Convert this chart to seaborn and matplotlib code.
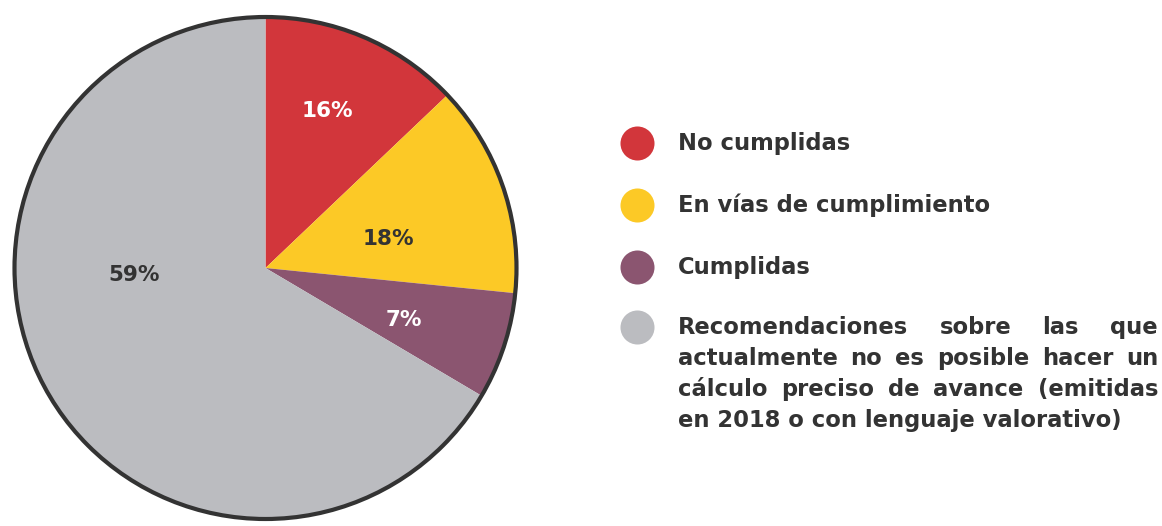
import matplotlib
matplotlib.use("Agg")
import matplotlib.pyplot as plt
import seaborn as sns

# slice sizes as drawn in the picture (degrees of arc / 360), and the printed labels
categories = ["No cumplidas", "En vías de cumplimiento", "Cumplidas",
              "Recomendaciones sobre las que actualmente no es posible hacer un "
              "cálculo preciso de avance (emitidas en 2018 o con lenguaje valorativo)"]
shares = [12.9, 13.7, 6.9, 66.5]
pct_labels = ["16%", "18%", "7%", "59%"]
colors = ["#D2363B", "#FCC926", "#8B5570", "#BBBCC0"]
label_colors = ["white", "#333333", "white", "#333333"]

# legend text lines (last item wrapped as in the original)
legend_lines = [
    ["No cumplidas"],
    ["En vías de cumplimiento"],
    ["Cumplidas"],
    ["Recomendaciones sobre las que",
     "actualmente no es posible hacer un",
     "cálculo preciso de avance (emitidas",
     "en 2018 o con lenguaje valorativo)"],
]

sns.set_theme(style="white")
plt.rcParams["font.family"] = ["DejaVu Sans"]
palette = sns.color_palette(colors)
txt_col = "#333333"

W, H = 1162, 526
fig = plt.figure(figsize=(W / 100, H / 100), dpi=100)

# pie axes, centre (265.5, 268) px, radius 251 px
cx, cy, rad = 265.5, 268, 251
ax = fig.add_axes([(cx - rad) / W, (H - cy - rad) / H, 2 * rad / W, 2 * rad / H])
wedges, _ = ax.pie(shares, colors=palette, startangle=90, counterclock=False,
                   radius=1, wedgeprops=dict(linewidth=0))
ax.add_patch(plt.Circle((0, 0), 1, fill=False, edgecolor="#333333",
                        linewidth=3, clip_on=False))
ax.set_xlim(-1, 1)
ax.set_ylim(-1, 1)
ax.set_aspect("equal")
ax.axis("off")

# percentage label positions (pie data units)
label_pos = [(0.245, 0.635), (0.49, 0.125), (0.55, -0.2), (-0.524, -0.02)]
for (lx, ly), lab, lc in zip(label_pos, pct_labels, label_colors):
    ax.text(lx, ly, lab, color=lc, fontsize=15.5, fontweight="bold",
            ha="center", va="center_baseline")

# overlay axes in pixel coordinates for the legend
lg = fig.add_axes([0, 0, 1, 1])
lg.set_xlim(0, W)
lg.set_ylim(H, 0)
lg.axis("off")

dot_x = 637
dot_y = [143, 205, 267, 327]
text_dy = -2
text_x0, text_x1 = 678, 1158
line_h = 31
fs = 16.3
renderer = fig.canvas.get_renderer()

for col, lines, y0 in zip(palette, legend_lines, dot_y):
    lg.scatter([dot_x], [y0], s=24.5 ** 2, color=col, linewidths=0)
    for i, line in enumerate(lines):
        y = y0 + text_dy + i * line_h
        words = line.split()
        if len(lines) == 1 or i == len(lines) - 1:
            lg.text(text_x0, y, line, fontsize=fs, fontweight="bold",
                    color=txt_col, ha="left", va="center_baseline")
            continue
        texts = [lg.text(0, y, w, fontsize=fs, fontweight="bold", color=txt_col,
                         ha="left", va="center_baseline") for w in words]
        widths = [t.get_window_extent(renderer).width for t in texts]
        gap = (text_x1 - text_x0 - sum(widths)) / (len(words) - 1)
        x = text_x0
        for t, w in zip(texts, widths):
            t.set_x(x)
            x += w + gap

fig.savefig("out.png", dpi=100, facecolor="white")
